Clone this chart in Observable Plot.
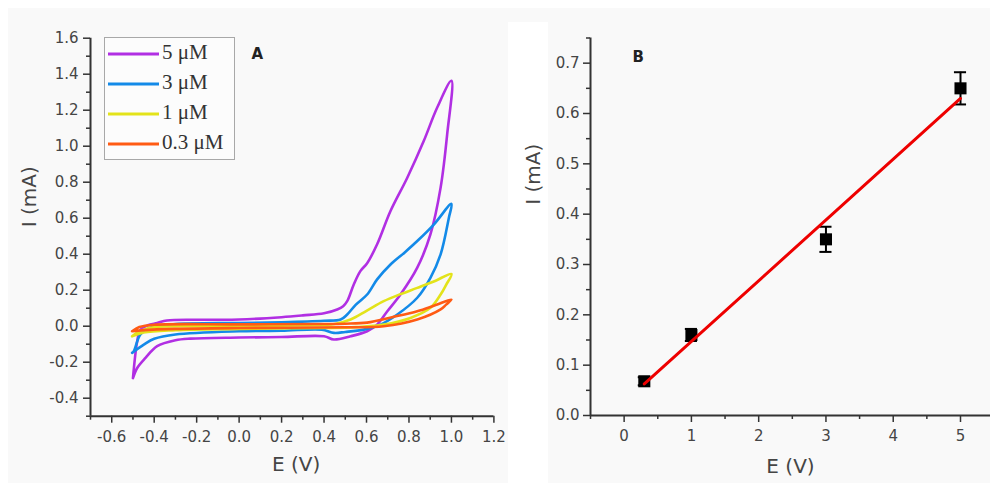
<!DOCTYPE html>
<html>
<head>
<meta charset="utf-8">
<script src="https://cdn.jsdelivr.net/npm/d3@7"></script>
<script src="https://cdn.jsdelivr.net/npm/@observablehq/plot@0.6"></script>
<style>
  body { margin: 0; background: #ffffff; }
  #wrap { position: relative; width: 990px; height: 483px; overflow: hidden; }
  .bg { position: absolute; background: #f9f9f9; }
  .panel { position: absolute; top: 0; }
  .panel svg { overflow: visible; }
  #legend { position: absolute; left: 104px; top: 37px; width: 131px; height: 123px;
            border: 1.5px solid #a8a8a8; background: #fcfcfc; box-sizing: border-box; }
  .lrow { position: absolute; left: 0; height: 24px; width: 130px; }
  .lrow svg { position: absolute; left: 1px; top: 0; }
  .lrow span { position: absolute; left: 57px; top: -2px; font-family: "Liberation Serif", serif;
               font-size: 21px; color: #333; white-space: nowrap; line-height: 24px; }
</style>
</head>
<body>
<div id="wrap">
  <div class="bg" style="left:8px;top:8px;width:500px;height:475px"></div>
  <div class="bg" style="left:548px;top:8px;width:442px;height:475px"></div>
  <div class="bg" style="left:508px;top:8px;width:40px;height:14px"></div>
  <div class="panel" id="panelA" style="left:0;"></div>
  <div class="panel" id="panelB" style="left:500px;"></div>
  <div id="legend"></div>
</div>
<script>
// ---------- Panel A: cyclic voltammograms ----------
const seriesLabels = ["5 μM", "3 μM", "1 μM", "0.3 μM"];
const seriesColors = ["#b12fe3", "#138ae8", "#e3e31a", "#ff5b14"];

const E_5uM = [-0.50, -0.48, -0.465, -0.43, -0.386, -0.34, -0.2, 0.0, 0.2, 0.3, 0.4, 0.462, 0.49, 0.509, 0.54, 0.571, 0.603, 0.65, 0.713, 0.792, 0.87, 0.933, 1.0,
               0.98, 0.949, 0.901, 0.839, 0.76, 0.698, 0.65, 0.603, 0.525, 0.446, 0.40, 0.2, 0.0, -0.229, -0.3, -0.386, -0.441, -0.48, -0.50];
const I_5uM = [-0.288, -0.083, -0.02, 0.005, 0.018, 0.032, 0.036, 0.037, 0.05, 0.06, 0.072, 0.093, 0.111, 0.139, 0.232, 0.306, 0.35, 0.455, 0.64, 0.825, 1.03, 1.215, 1.363,
               1.067, 0.77, 0.51, 0.325, 0.176, 0.083, 0.009, -0.028, -0.056, -0.074, -0.056, -0.06, -0.063, -0.069, -0.078, -0.111, -0.176, -0.232, -0.288];

const E_3uM = [-0.504, -0.496, -0.465, -0.42, -0.386, -0.3, 0.0, 0.2, 0.4, 0.478, 0.509, 0.55, 0.603, 0.65, 0.713, 0.78, 0.839, 0.918, 1.0,
               0.988, 0.949, 0.901, 0.839, 0.745, 0.666, 0.587, 0.50, 0.446, 0.39, 0.2, 0.0, -0.3, -0.40, -0.449, -0.504];
const I_3uM = [-0.148, -0.139, -0.046, -0.01, 0.0, 0.012, 0.018, 0.022, 0.03, 0.037, 0.065, 0.12, 0.176, 0.26, 0.343, 0.41, 0.473, 0.566, 0.68,
               0.603, 0.399, 0.269, 0.158, 0.065, 0.009, -0.019, -0.032, -0.037, -0.019, -0.025, -0.028, -0.046, -0.07, -0.102, -0.148];

const E_1uM = [-0.504, -0.48, -0.449, -0.4, -0.2, 0.2, 0.4, 0.45, 0.525, 0.6, 0.681, 0.76, 0.839, 0.92, 1.0,
               0.975, 0.949, 0.901, 0.807, 0.681, 0.55, 0.4, 0.0, -0.3, -0.45, -0.504];
const I_1uM = [-0.056, -0.035, -0.019, -0.005, 0.0, 0.003, 0.008, 0.012, 0.037, 0.085, 0.139, 0.178, 0.213, 0.25, 0.29,
               0.23, 0.176, 0.102, 0.046, 0.009, -0.005, -0.01, -0.015, -0.022, -0.035, -0.056];

const E_03uM = [-0.504, -0.47, -0.4, 0.0, 0.4, 0.5, 0.603, 0.72, 0.839, 0.92, 1.0,
                0.975, 0.949, 0.839, 0.681, 0.5, 0.0, -0.3, -0.45, -0.504];
const I_03uM = [-0.028, -0.005, 0.008, 0.01, 0.012, 0.014, 0.02, 0.05, 0.083, 0.115, 0.148,
                0.12, 0.093, 0.037, 0.0, -0.006, -0.01, -0.015, -0.022, -0.028];

const xMajorA = [-0.6, -0.4, -0.2, 0.0, 0.2, 0.4, 0.6, 0.8, 1.0, 1.2];
const xMinorA = [-0.7, -0.5, -0.3, -0.1, 0.1, 0.3, 0.5, 0.7, 0.9, 1.1];
const yMajorA = [-0.4, -0.2, 0.0, 0.2, 0.4, 0.6, 0.8, 1.0, 1.2, 1.4, 1.6];
const yMinorA = [-0.5, -0.3, -0.1, 0.1, 0.3, 0.5, 0.7, 0.9, 1.1, 1.3, 1.5];

// ---------- Panel B: calibration ----------
const concB = [0.3, 1, 3, 5];
const currentB = [0.068, 0.16, 0.35, 0.65];
const errorB = [0.008, 0.012, 0.025, 0.032];

const xMajorB = [0, 1, 2, 3, 4, 5];
const xMinorB = [-0.5, 0.5, 1.5, 2.5, 3.5, 4.5];
const yMajorB = [0.0, 0.1, 0.2, 0.3, 0.4, 0.5, 0.6, 0.7];
const yMinorB = [0.05, 0.15, 0.25, 0.35, 0.45, 0.55, 0.65, 0.75];

// ---------- build ----------
const curves = [E_5uM, E_3uM, E_1uM, E_03uM].map((E, k) => ({E, I: [I_5uM, I_3uM, I_1uM, I_03uM][k]}));
const cvRows = curves.flatMap((c, k) => c.E.map((e, i) => ({E: e, I: c.I[i], series: seriesLabels[k]})));

const axisColor = "#333";
const labelColor = "#454545";
const fmt1 = d => (+d).toFixed(1);

function axes(xMaj, xMin, yMaj, yMin, xFmt, yFmt, yPad) {
  return [
    Plot.axisY(yMaj, {tickSize: 7, tickPadding: yPad, tickFormat: yFmt, label: null, stroke: axisColor, strokeWidth: 1.5, fill: labelColor, fontSize: 15}),
    Plot.axisY(yMin, {tickSize: 4, text: null, label: null, stroke: axisColor, strokeWidth: 1.5}),
    Plot.axisX(xMaj, {tickSize: 7, tickPadding: 8, tickFormat: xFmt, label: null, stroke: axisColor, strokeWidth: 1.5, fill: labelColor, fontSize: 15}),
    Plot.axisX(xMin, {tickSize: 4, text: null, label: null, stroke: axisColor, strokeWidth: 1.5})
  ];
}

const plotA = Plot.plot({
  width: 510, height: 483,
  marginLeft: 90, marginRight: 16.6, marginTop: 37.7, marginBottom: 67.3,
  style: {background: "transparent", fontFamily: "DejaVu Sans, sans-serif", fontSize: "15px", color: labelColor, overflow: "visible"},
  x: {domain: [-0.7, 1.2]},
  y: {domain: [-0.5, 1.6]},
  color: {domain: seriesLabels, range: seriesColors},
  marks: [
    ...axes(xMajorA, xMinorA, yMajorA, yMinorA, fmt1, fmt1, 5),
    Plot.ruleX([-0.7], {stroke: axisColor, strokeWidth: 2}),
    Plot.ruleY([-0.5], {stroke: axisColor, strokeWidth: 2}),
    Plot.line(cvRows, {x: "E", y: "I", z: "series", stroke: "series", strokeWidth: 2.6, strokeLinejoin: "round", curve: "catmull-rom"}),
    Plot.text(["I (mA)"], {text: d => d, frameAnchor: "left", rotate: -90, dx: -61, fontSize: 20, fill: labelColor}),
    Plot.text(["E (V)"], {text: d => d, frameAnchor: "bottom", dy: 55, dx: 4, fontSize: 20, fill: labelColor}),
    Plot.text(["A"], {text: d => d, frameAnchor: "top-left", dx: 161, dy: 10, fontSize: 15, fontWeight: "bold", fill: "#222"})
  ]
});
document.getElementById("panelA").appendChild(plotA);

const rowsB = concB.map((c, i) => ({x: c, y: currentB[i], lo: currentB[i] - errorB[i], hi: currentB[i] + errorB[i]}));
const capHalf = 0.09;

const plotB = Plot.plot({
  width: 490, height: 483,
  marginLeft: 90, marginRight: 0, marginTop: 37.5, marginBottom: 68,
  style: {background: "transparent", fontFamily: "DejaVu Sans, sans-serif", fontSize: "15px", color: labelColor, overflow: "visible"},
  x: {domain: [-0.5, 5.446]},
  y: {domain: [0, 0.75]},
  marks: [
    ...axes(xMajorB, xMinorB, yMajorB, yMinorB, d => String(d), fmt1, 4),
    Plot.ruleX([-0.5], {stroke: axisColor, strokeWidth: 2}),
    Plot.ruleY([0], {stroke: axisColor, strokeWidth: 2}),
    Plot.ruleX(rowsB, {x: "x", y1: "lo", y2: "hi", stroke: "#000", strokeWidth: 2}),
    Plot.ruleY(rowsB, {y: "lo", x1: d => d.x - capHalf, x2: d => d.x + capHalf, stroke: "#000", strokeWidth: 2}),
    Plot.ruleY(rowsB, {y: "hi", x1: d => d.x - capHalf, x2: d => d.x + capHalf, stroke: "#000", strokeWidth: 2}),
    Plot.dot(rowsB, {x: "x", y: "y", symbol: "square", r: 6.8, fill: "#000", stroke: "none"}),
    Plot.linearRegressionY(rowsB, {x: "x", y: "y", stroke: "#ee0000", strokeWidth: 3, ci: 0}),
    Plot.text(["I (mA)"], {text: d => d, frameAnchor: "left", rotate: -90, dx: -57, dy: -22, fontSize: 20, fill: labelColor}),
    Plot.text(["E (V)"], {text: d => d, frameAnchor: "bottom", dy: 57, fontSize: 20, fill: labelColor}),
    Plot.text(["B"], {text: d => d, frameAnchor: "top-left", dx: 42, dy: 13, fontSize: 15, fontWeight: "bold", fill: "#222"})
  ]
});
document.getElementById("panelB").appendChild(plotB);

// ---------- legend ----------
const legend = d3.select("#legend");
seriesLabels.forEach((lab, i) => {
  const row = legend.append("div").attr("class", "lrow").style("top", (4 + i * 30) + "px");
  row.append("svg").attr("width", 54).attr("height", 24)
    .append("line").attr("x1", 2).attr("x2", 53).attr("y1", 12).attr("y2", 12)
    .attr("stroke", seriesColors[i]).attr("stroke-width", 3);
  row.append("span").text(lab);
});
</script>
</body>
</html>
